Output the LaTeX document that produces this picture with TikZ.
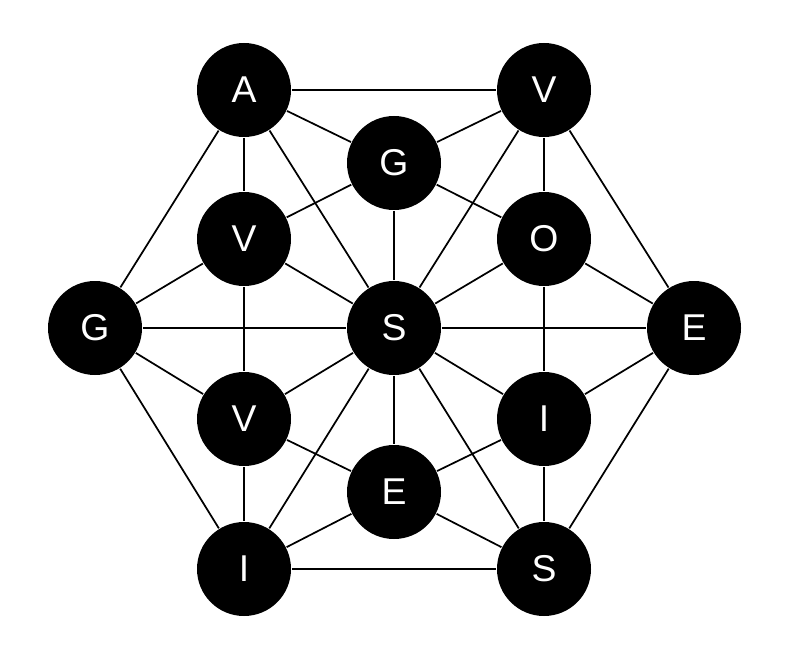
\documentclass[tikz,border=0pt]{standalone}
\usepackage{fontspec}
\setmainfont{Liberation Sans}

\begin{document}
\begin{tikzpicture}[x=0.75pt,y=-0.75pt,line width=1.3pt,
	letter/.style={fill=black,circle,inner sep=0pt,minimum size=70.5pt,text=white,font=\fontsize{28}{30}\selectfont}]
	\useasboundingbox (0,0) rectangle (787,652);

	%outer hexagon
	\node[letter] (A) at (244,90) {A};
	\node[letter] (Vt) at (544,90) {V};
	\node[letter] (Eo) at (694,328) {E};
	\node[letter] (Sb) at (544,569) {S};
	\node[letter] (Ib) at (244,569) {I};
	\node[letter] (Go) at (95,328) {G};

	%inner hexagon
	\node[letter] (Gi) at (394,163) {G};
	\node[letter] (O) at (544,239) {O};
	\node[letter] (Ii) at (544,419) {I};
	\node[letter] (Ei) at (394,492) {E};
	\node[letter] (Vb) at (244,419) {V};
	\node[letter] (Vl) at (244,239) {V};

	%centre
	\node[letter] (S) at (394,328) {S};

	%outer edges
	\draw (A) -- (Vt);
	\draw (Vt) -- (Eo);
	\draw (Eo) -- (Sb);
	\draw (Sb) -- (Ib);
	\draw (Ib) -- (Go);
	\draw (Go) -- (A);

	%inner edges
	\draw (Gi) -- (O);
	\draw (O) -- (Ii);
	\draw (Ii) -- (Ei);
	\draw (Ei) -- (Vb);
	\draw (Vb) -- (Vl);
	\draw (Vl) -- (Gi);

	%outer to inner
	\draw (A) -- (Gi);
	\draw (A) -- (Vl);
	\draw (Vt) -- (Gi);
	\draw (Vt) -- (O);
	\draw (Eo) -- (O);
	\draw (Eo) -- (Ii);
	\draw (Sb) -- (Ii);
	\draw (Sb) -- (Ei);
	\draw (Ib) -- (Ei);
	\draw (Ib) -- (Vb);
	\draw (Go) -- (Vb);
	\draw (Go) -- (Vl);

	%spokes from centre
	\foreach \n in {A,Vt,Eo,Sb,Ib,Go,Gi,O,Ii,Ei,Vb,Vl}
		\draw (S) -- (\n);
\end{tikzpicture}
\end{document}
